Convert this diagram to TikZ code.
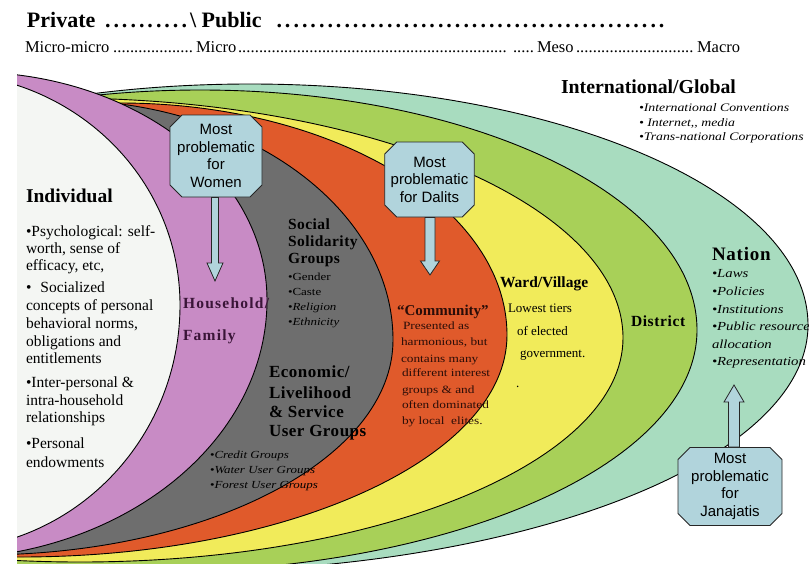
\documentclass[tikz,border=0pt]{standalone}
\usepackage{fontspec}
\setmainfont{Liberation Serif}
\setsansfont{Liberation Sans}
\newfontfamily\wideserif{Liberation Serif}[FakeStretch=1.2]
\usetikzlibrary{shapes.misc,calc}
\definecolor{mint}{HTML}{A8DCBF}
\definecolor{lgreen}{HTML}{A8D058}
\definecolor{lyellow}{HTML}{F1EB5A}
\definecolor{lorange}{HTML}{E05A2B}
\definecolor{lgrey}{HTML}{6E6E6E}
\definecolor{lpurple}{HTML}{C88BC5}
\definecolor{lwhite}{HTML}{F4F6F3}
\definecolor{boxblue}{HTML}{B1D4DC}
\definecolor{plum}{HTML}{3A1538}
\definecolor{cdark}{HTML}{2A0D08}
\newcommand\titledots{\leaders\hbox to 8.5pt{\hss.\hss}\hfill}
\newcommand\subdots{\leaders\hbox to 4.2pt{\hss.\hss}\hfill}
\begin{document}
\begin{tikzpicture}[x=1pt,y=-1pt,
  lbl/.style={anchor=base west, inner sep=0pt, outer sep=0pt},
  titletxt/.style={lbl, font=\bfseries\fontsize{22}{26}\selectfont},
  subtxt/.style={lbl, font=\fontsize{16.5}{20}\selectfont},
  headtxt/.style={lbl, font=\bfseries\fontsize{19.5}{22}\selectfont},
  bodytxt/.style={lbl, font=\fontsize{15.5}{18}\selectfont},
  midtxt/.style={lbl, font=\bfseries\fontsize{15.5}{18}\selectfont},
  econtxt/.style={lbl, font=\bfseries\fontsize{17}{20}\selectfont},
  smalltxt/.style={lbl, font=\wideserif\fontsize{10.8}{13}\selectfont},
  commtxt/.style={lbl, text=cdark, font=\wideserif\fontsize{11.1}{13}\selectfont},
  wardtxt/.style={lbl, font=\fontsize{13}{15}\selectfont},
  nattxt/.style={lbl, font=\wideserif\itshape\fontsize{12.3}{14}\selectfont},
  inttxt/.style={lbl, font=\wideserif\itshape\fontsize{11.5}{14}\selectfont},
  layer/.style={draw=black, line width=0.9pt},
  probbox/.style={chamfered rectangle, chamfered rectangle xsep=6pt,
    chamfered rectangle ysep=6pt, draw=black!85, line width=0.8pt,
    fill=boxblue, font=\sffamily\fontsize{15}{17.5}\selectfont,
    align=center, inner sep=0pt},
  barrow/.style={fill=boxblue, draw=black!85, line width=0.8pt, line join=miter}
]
\useasboundingbox (0,0) rectangle (809,563);
\fill[white] (0,0) rectangle (809,563);

\begin{scope}
\clip (17,60) rectangle (809,563);
% international / global
\filldraw[layer, fill=mint] (808,325) arc[start angle=0, end angle=180, x radius=638, y radius=247]
  -- (-308,325) arc[start angle=180, end angle=360, x radius=558, y radius=241] -- cycle;
% district
\filldraw[layer, fill=lgreen] (697,330) arc[start angle=0, end angle=180, x radius=547, y radius=242]
  -- (-297,330) arc[start angle=180, end angle=360, x radius=497, y radius=240] -- cycle;
% ward / village
\filldraw[layer, fill=lyellow] (623,338) arc[start angle=0, end angle=180, x radius=543, y radius=224]
  -- (-503,338) arc[start angle=180, end angle=360, x radius=563, y radius=240] -- cycle;
% community
\filldraw[layer, fill=lorange] (507,335) arc[start angle=0, end angle=180, x radius=487, y radius=222]
  -- (-267,335) arc[start angle=180, end angle=360, x radius=387, y radius=232] -- cycle;
% groups
\filldraw[layer, fill=lgrey] (393,340) arc[start angle=0, end angle=180, x radius=413, y radius=215]
  -- (-273,340) arc[start angle=180, end angle=360, x radius=333, y radius=240] -- cycle;
% household
\filldraw[layer, fill=lpurple] (267,300) arc[start angle=0, end angle=180, x radius=327, y radius=259]
  -- (-327,300) arc[start angle=180, end angle=360, x radius=297, y radius=228] -- cycle;
% individual
\filldraw[layer, fill=lwhite] (180,305) arc[start angle=0, end angle=180, x radius=240, y radius=245]
  -- (-300,305) arc[start angle=180, end angle=360, x radius=240, y radius=232] -- cycle;
\end{scope}

% title lines
\node[titletxt] (t1) at (27,27) {\makebox[163pt][l]{Private\titledots}};
\node[titletxt] (t2) at (190,27) {\makebox[478pt][l]{\textbackslash\ Public\ \titledots}};
\node[subtxt] (s1) at (25,52) {\makebox[171pt][l]{Micro-micro\subdots}};
\node[subtxt] (s2) at (196,52) {\makebox[312pt][l]{Micro\subdots}};
\node[subtxt] (s3) at (513,52) {\makebox[184pt][l]{\makebox[24pt][l]{\subdots}Meso\subdots}};
\node[subtxt] (s4) at (697,52) {Macro};

% individual
\node[headtxt] (ind) at (26,202) {Individual};
\node[bodytxt] (i1) at (26,236) {•Psychological: self-};
\node[bodytxt] (i2) at (26,253) {worth, sense of};
\node[bodytxt] (i3) at (26,270) {efficacy, etc,};
\node[bodytxt] (i4) at (26,292) {•\hspace{9pt}Socialized};
\node[bodytxt] (i5) at (26,310) {concepts of personal};
\node[bodytxt] (i6) at (26,328) {behavioral norms,};
\node[bodytxt] (i7) at (26,346) {obligations and};
\node[bodytxt] (i8) at (26,363) {entitlements};
\node[bodytxt] (i9) at (26,387) {•Inter-personal \&};
\node[bodytxt] (i10) at (26,405) {intra-household};
\node[bodytxt] (i11) at (26,422) {relationships};
\node[bodytxt] (i12) at (26,448) {•Personal};
\node[bodytxt] (i13) at (26,467) {endowments};

% household
\node[midtxt, text=plum] (h1) at (183,308) {\addfontfeature{LetterSpace=8}Household/};
\node[midtxt, text=plum] (h2) at (183,340) {\addfontfeature{LetterSpace=8}Family};

% social solidarity
\node[midtxt] (g1) at (288,229) {\addfontfeature{LetterSpace=3}Social};
\node[midtxt] (g2) at (288,246) {\addfontfeature{LetterSpace=3}Solidarity};
\node[midtxt] (g3) at (288,263) {\addfontfeature{LetterSpace=3}Groups};
\node[smalltxt] (g4) at (288,280) {•Gender};
\node[smalltxt] (g5) at (288,295) {•Caste};
\node[smalltxt] (g6) at (288,310) {•\textit{Religion}};
\node[smalltxt] (g7) at (288,325) {•\textit{Ethnicity}};

% economic
\node[econtxt] (e1) at (269,377) {\addfontfeature{LetterSpace=3}Economic/};
\node[econtxt] (e2) at (269,398) {\addfontfeature{LetterSpace=3}Livelihood};
\node[econtxt] (e3) at (269,417) {\addfontfeature{LetterSpace=3}\& Service};
\node[econtxt] (e4) at (269,436) {\addfontfeature{LetterSpace=3}User Groups};
\node[smalltxt] (c1) at (210,458) {•\textit{Credit Groups}};
\node[smalltxt] (c2) at (210,473) {•\textit{Water User Groups}};
\node[smalltxt] (c3) at (210,488) {•\textit{Forest User Groups}};

% community
\node[midtxt, text=cdark, font=\bfseries\fontsize{15}{18}\selectfont] (m0) at (397,315) {“Community”};
\node[commtxt] (m1) at (403,329) {Presented as};
\node[commtxt] (m2) at (401,345) {harmonious, but};
\node[commtxt] (m3) at (401,362) {contains many};
\node[commtxt] (m4) at (402,376) {different interest};
\node[commtxt] (m5) at (402,393) {groups \& and};
\node[commtxt] (m6) at (402,408) {often dominated};
\node[commtxt] (m7) at (402,424) {by local\ \ elites.};

% ward
\node[midtxt] (w0) at (500,287) {Ward/Village};
\node[wardtxt] (w1) at (508,312) {Lowest tiers};
\node[wardtxt] (w2) at (517,335) {of elected};
\node[wardtxt] (w3) at (520,357) {government.};
\node[wardtxt] (w4) at (516,387) {.};

% district
\node[midtxt] (d0) at (631,326) {\addfontfeature{LetterSpace=4}District};

% nation
\node[headtxt, font=\bfseries\fontsize{19}{22}\selectfont] (n0) at (712,260) {\addfontfeature{LetterSpace=4}Nation};
\node[nattxt] (n1) at (712,277) {•Laws};
\node[nattxt] (n2) at (712,295) {•Policies};
\node[nattxt] (n3) at (712,313) {•Institutions};
\node[nattxt] (n4) at (712,330) {•Public resource};
\node[nattxt] (n5) at (712,348) {allocation};
\node[nattxt] (n6) at (712,365) {•Representation};

% international
\node[headtxt, font=\bfseries\fontsize{19.8}{22}\selectfont] (x0) at (561,93) {International/Global};
\node[inttxt] (x1) at (639,111) {•International Conventions};
\node[inttxt] (x2) at (639,126) {• Internet,, media};
\node[inttxt] (x3) at (639,140) {•Trans-national Corporations};

% boxes
\node[probbox, minimum width=92pt, minimum height=82pt] (women) at (216,156) {Most\\problematic\\for\\Women};
\node[probbox, minimum width=85pt, minimum height=75pt] (dalits) at (429.5,179.5) {Most\\problematic\\for Dalits};
\node[probbox, minimum width=104pt, minimum height=77pt] (jana) at (730,486.5) {Most\\problematic\\for\\Janajatis};

% block arrows
\coordinate (wtip) at (215,281);
\coordinate (dtip) at (430,275);
\coordinate (jtip) at (734,385);
\filldraw[barrow] ($(women.south -| wtip)+(-3.5,0)$) -- ($(wtip)+(-3.5,-18)$) -- ($(wtip)+(-8,-18)$) -- (wtip) -- ($(wtip)+(8,-18)$) -- ($(wtip)+(3.5,-18)$) -- ($(women.south -| wtip)+(3.5,0)$) -- cycle;
\filldraw[barrow] ($(dalits.south -| dtip)+(-5,0)$) -- ($(dtip)+(-5,-14)$) -- ($(dtip)+(-9.5,-14)$) -- (dtip) -- ($(dtip)+(9.5,-14)$) -- ($(dtip)+(5,-14)$) -- ($(dalits.south -| dtip)+(5,0)$) -- cycle;
\filldraw[barrow] ($(jana.north -| jtip)+(-5.5,0)$) -- ($(jtip)+(-5.5,17)$) -- ($(jtip)+(-10,17)$) -- (jtip) -- ($(jtip)+(10,17)$) -- ($(jtip)+(5.5,17)$) -- ($(jana.north -| jtip)+(5.5,0)$) -- cycle;
\end{tikzpicture}
\end{document}
